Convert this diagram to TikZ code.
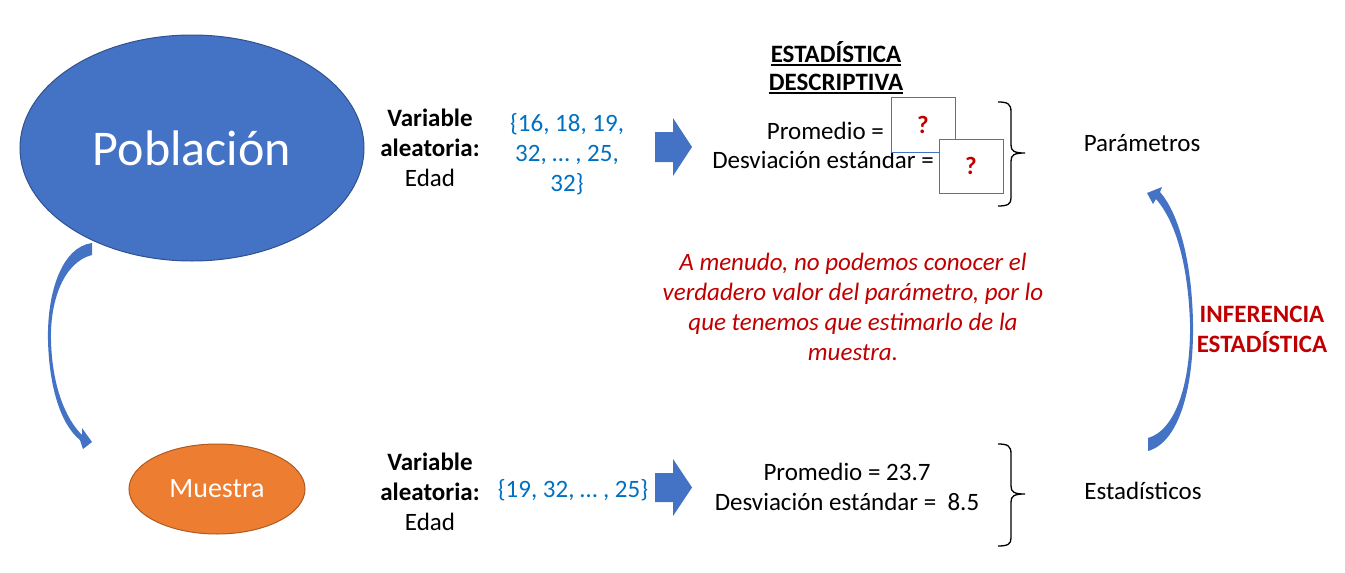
\documentclass[tikz,border=0pt]{standalone}
\usepackage{fontspec}
\setmainfont{Carlito}
\usetikzlibrary{shapes.geometric}
\definecolor{pblue}{RGB}{68,114,196}
\definecolor{pbluedark}{RGB}{47,82,143}
\definecolor{porange}{RGB}{237,125,49}
\definecolor{porangedark}{RGB}{174,90,33}
\definecolor{setblue}{RGB}{0,112,192}
\definecolor{dred}{RGB}{192,0,0}
\newcommand\myul[1]{\setbox0\hbox{#1}\rlap{\vrule width\wd0 height -2pt depth 4pt}\box0}
\begin{document}
\begin{tikzpicture}[x=1pt,y=-1pt,
  txt/.style={inner sep=0pt, font=\fontsize{25}{30}\selectfont, anchor=base},
  mtxt/.style={txt, align=center},
  qbox/.style={draw=pblue, line width=1pt, fill=white},
  blockarrow/.style={fill=pblue},
  bracestyle/.style={draw=black, line width=1.3pt},
  curvedarrow/.style={fill=pblue}]
\useasboundingbox (0,0) rectangle (1345,573);

% ellipses
\node[ellipse, fill=pblue, draw=pbluedark, line width=1pt, minimum width=344pt, minimum height=226pt, inner sep=0pt,
      text=white, font=\fontsize{50}{60}\selectfont] (pob) at (192,148) {Población};
\node[ellipse, fill=porange, draw=porangedark, line width=1pt, minimum width=176pt, minimum height=90pt, inner sep=0pt,
      text=white, font=\fontsize{28}{32}\selectfont] (mue) at (217,489) {Muestra};

% variable labels (anchor base = last line)
\node[mtxt] (var1) at (430,186) {\textbf{Variable}\\\textbf{aleatoria:}\\Edad};
\node[mtxt] (var2) at (430,530) {\textbf{Variable}\\\textbf{aleatoria:}\\Edad};

% sets
\node[mtxt, text=setblue] (set1) at (567,191) {\{16, 18, 19,\\32, … , 25,\\32\}};
\node[txt, text=setblue] (set2) at (573,497) {\{19, 32, … , 25\}};

% block arrows
\fill[blockarrow] (655,132) -- (673,132) -- (673,118) -- (692,147) -- (673,176) -- (673,162) -- (655,162) -- cycle;
\fill[blockarrow] (655,473) -- (673,473) -- (673,459) -- (692,487.5) -- (673,516) -- (673,502) -- (655,502) -- cycle;

% title
\node[mtxt, font=\fontsize{25}{28}\selectfont\bfseries] (title) at (836,90) {\myul{ESTADÍSTICA}\\\myul{DESCRIPTIVA}};

% top statistics
\node[txt, anchor=base east] (prom1) at (884,139) {Promedio =};
\node[txt, anchor=base east] (desv1) at (934,168) {Desviación estándar =};
\node[qbox, minimum width=64pt, minimum height=55pt, inner sep=0pt] (q1) at (923,124.5) {};
\node[txt, anchor=center, text=dred, font=\fontsize{25}{30}\selectfont\bfseries] (q1t) at (q1.center) {?};
\node[qbox, minimum width=64pt, minimum height=54pt, inner sep=0pt] (q2) at (971,166) {};
\node[txt, anchor=center, text=dred, font=\fontsize{25}{30}\selectfont\bfseries] (q2t) at (q2.center) {?};

% bottom statistics
\node[mtxt] (stats2) at (847,510) {Promedio = 23.7\\Desviación estándar = \ 8.5};

% braces
\draw[bracestyle] (998,102) .. controls (1008,102) and (1011,104) .. (1011,112) -- (1011,145)
  .. controls (1011,151) and (1014,153) .. (1025,153)
  .. controls (1014,153) and (1011,155) .. (1011,161) -- (1011,198)
  .. controls (1011,204) and (1008,206) .. (998,206);
\draw[bracestyle] (998,444) .. controls (1008,444) and (1011,446) .. (1011,454) -- (1011,486)
  .. controls (1011,492) and (1014,494) .. (1025,494)
  .. controls (1014,494) and (1011,496) .. (1011,502) -- (1011,538)
  .. controls (1011,544) and (1008,546) .. (998,546);

\node[txt] (param) at (1142,151) {Parámetros};
\node[txt] (estad) at (1143,499) {Estadísticos};

% red note
\node[mtxt, text=dred, font=\fontsize{25}{30}\selectfont\itshape] (note) at (853,360)
  {A menudo, no podemos conocer el\\verdadero valor del parámetro, por lo\\que tenemos que estimarlo de la\\muestra.};

\node[mtxt, text=dred, font=\fontsize{25}{30}\selectfont\bfseries] (inf) at (1262,352) {INFERENCIA\\ESTADÍSTICA};

% curved arrows
\fill[curvedarrow] (92,243) .. controls (62,247) and (47,292) .. (48,340)
  .. controls (49,385) and (60,424) .. (80,440)
  -- (83,449) -- (92,442) -- (82,428) -- (82,435)
  .. controls (65,418) and (52,385) .. (51,340)
  .. controls (50,300) and (64,262) .. (92,255) -- cycle;
\fill[curvedarrow] (1148,451) .. controls (1180,442) and (1194,385) .. (1193,323)
  .. controls (1192,265) and (1180,215) .. (1160,192)
  -- (1162,187) -- (1147,193) -- (1153,204) -- (1156,199)
  .. controls (1176,222) and (1188,265) .. (1190,323)
  .. controls (1191,382) and (1176,430) .. (1148,438) -- cycle;
\end{tikzpicture}
\end{document}
